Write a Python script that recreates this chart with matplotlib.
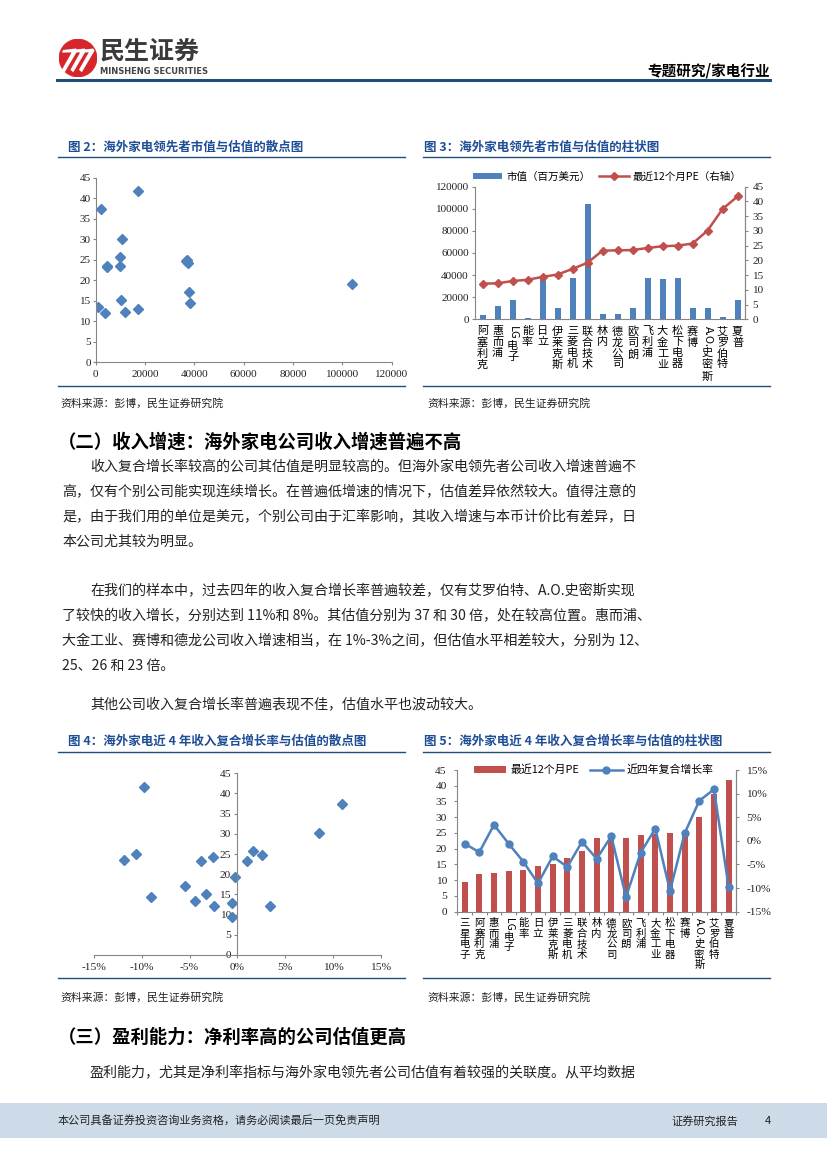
import re
import matplotlib.pyplot as plt
from matplotlib.patches import Circle, Rectangle, Patch, Polygon
from matplotlib.lines import Line2D
from matplotlib.ticker import FuncFormatter

W, H = 827, 1169
CJK = ['Noto Sans CJK SC', 'DejaVu Sans']
NUM = ['Liberation Serif', 'DejaVu Serif']
plt.rcParams['font.family'] = CJK

# companies sorted by trailing PE
names = ['阿塞利克', '惠而浦', 'LG电子', '能率', '日立', '伊莱克斯', '三菱电机', '联合技术',
         '林内', '德龙公司', '欧司朗', '飞利浦', '大金工业', '松下电器', '赛博', 'A.O.史密斯',
         '艾罗伯特', '夏普']
mcap = [3800, 12000, 17200, 800, 38200, 10100, 37700, 104000, 4700, 4700, 9900, 37300,
        36600, 37200, 10000, 10500, 2200, 17300]
pe = [12.1, 12.2, 13.0, 13.4, 14.4, 15.2, 17.1, 19.2, 23.3, 23.4, 23.5, 24.2, 24.8, 25.0,
      25.7, 30.1, 37.4, 41.7]

names5 = ['三星电子'] + names
pe5 = [9.4] + pe
growth = [-0.6, -2.4, 3.4, -0.6, -4.4, -9.0, -3.3, -5.5, -0.2, -3.8, 1.0, -11.9, -2.5, 2.6,
          -10.6, 1.6, 8.5, 10.9, -9.8]

BLUE = '#4F81BD'
RED = '#C0504D'
NAVY = '#1F4E79'
TITLE_BLUE = '#1F4E96'
GRAY = '#868686'

fig = plt.figure(figsize=(W / 100, H / 100), dpi=100)
renderer = fig.canvas.get_renderer()


def rect(x0, y0, x1, y1):
    return [x0 / W, 1 - y1 / H, (x1 - x0) / W, (y1 - y0) / H]


def ftext(x, y, s, **kw):
    kw.setdefault('va', 'center')
    return fig.text(x / W, 1 - y / H, s, **kw)


def hline(x0, x1, y, lw=1.0, color=NAVY):
    fig.add_artist(Line2D([x0 / W, x1 / W], [1 - y / H, 1 - y / H], lw=lw, color=color))


def clean(ax, keep=('left', 'bottom')):
    for side in ['left', 'right', 'top', 'bottom']:
        ax.spines[side].set_visible(side in keep)
        ax.spines[side].set_color(GRAY)
        ax.spines[side].set_linewidth(0.8)
    ax.tick_params(colors=GRAY, labelcolor='#222222', width=0.8)


def num_font(ax, size):
    for lab in ax.get_xticklabels() + ax.get_yticklabels():
        lab.set_fontfamily(NUM)
        lab.set_fontsize(size)


def vlabels(ax, labels, top, fs, ls):
    # vertical category labels: latin part rotated, CJK chars stacked
    for i, lab in enumerate(labels):
        m = re.match(r'[A-Za-z.]+', lab)
        lat = m.group(0) if m else ''
        rest = lab[len(lat):]
        off = top
        if lat:
            t = ax.annotate(lat, xy=(i, 0), xycoords=('data', 'axes fraction'),
                            xytext=(0, -off), textcoords='offset points', rotation=270,
                            ha='center', va='top', fontsize=fs)
            off += t.get_window_extent(renderer).height * 72 / fig.dpi + 0.5
        ax.annotate('\n'.join(rest), xy=(i, 0), xycoords=('data', 'axes fraction'),
                    xytext=(0, -off), textcoords='offset points', ha='center', va='top',
                    fontsize=fs, linespacing=ls)


# ---------------- header ----------------
ax_logo = fig.add_axes(rect(59, 39, 97, 77))
ax_logo.set_xlim(-1, 1)
ax_logo.set_ylim(-1, 1)
ax_logo.set_aspect('equal')
ax_logo.axis('off')
ax_logo.add_patch(Circle((0, 0), 0.98, color='#D7262B'))
for o in [-0.45, 0.0, 0.45]:
    ax_logo.add_patch(Polygon([(o - 0.35, 0.42), (o + 0.35, 0.5), (o + 0.42, 0.38),
                               (o - 0.25, -0.75), (o - 0.4, -0.62), (o + 0.12, 0.3),
                               (o - 0.38, 0.28)], closed=True, color='white', lw=0))
ftext(100, 52, '民生证券', fontsize=18, fontweight='bold', color='#3A3A3A')
ftext(100, 71, 'MINSHENG SECURITIES', fontsize=6, fontweight='bold', color='#444444',
      family='DejaVu Sans')
ftext(770, 70, '专题研究/家电行业', fontsize=10.5, fontweight='bold', ha='right')
hline(57, 770, 80, lw=2.2, color=NAVY)

# ---------------- figure titles / frame lines ----------------
ftext(68, 147, '图 2：海外家电领先者市值与估值的散点图', fontsize=9, fontweight='bold',
      color=TITLE_BLUE)
ftext(424, 147, '图 3：海外家电领先者市值与估值的柱状图', fontsize=9, fontweight='bold',
      color=TITLE_BLUE)
ftext(68, 741.5, '图 4：海外家电近 4 年收入复合增长率与估值的散点图', fontsize=9,
      fontweight='bold', color=TITLE_BLUE)
ftext(424, 741.5, '图 5：海外家电近 4 年收入复合增长率与估值的柱状图', fontsize=9,
      fontweight='bold', color=TITLE_BLUE)
for y in [157, 386]:
    hline(58, 405, y)
    hline(423, 770, y)
for y in [752, 978]:
    hline(58, 405, y)
    hline(423, 770, y)
src = '资料来源：彭博，民生证券研究院'
for x, y in [(60, 403), (427, 403), (60, 997), (427, 997)]:
    ftext(x, y, src, fontsize=7.8, color='#222222')

# ---------------- Fig 2: scatter market cap vs PE ----------------
ax2 = fig.add_axes(rect(95.7, 177.7, 391.7, 362.3))
ax2.plot(mcap, pe, ls='none', marker='D', ms=5.6, color=BLUE)
ax2.set_xlim(0, 120000)
ax2.set_ylim(0, 45)
ax2.set_xticks(range(0, 120001, 20000))
ax2.set_yticks(range(0, 46, 5))
clean(ax2)
ax2.tick_params(axis='y', length=2.5, pad=1)
ax2.tick_params(axis='x', length=2.5, pad=3)
num_font(ax2, 8)

# ---------------- Fig 3: bar market cap + PE line ----------------
ax3 = fig.add_axes(rect(475, 186.7, 745, 319.3))
x3 = range(len(names))
ax3.bar(x3, mcap, width=0.4, color=BLUE, label='市值（百万美元）')
ax3.set_xlim(-0.5, len(names) - 0.5)
ax3.set_ylim(0, 120000)
ax3.set_yticks(range(0, 120001, 20000))
ax3.set_xticks([])
clean(ax3, keep=('left', 'bottom', 'right'))
ax3.tick_params(axis='y', length=2.5, pad=2)
ax3r = ax3.twinx()
ax3r.plot(x3, pe, color=RED, lw=1.8, marker='D', ms=4.5, label='最近12个月PE（右轴）')
ax3r.set_ylim(0, 45)
ax3r.set_yticks(range(0, 46, 5))
clean(ax3r, keep=('right',))
ax3r.tick_params(axis='y', length=2.5, pad=3)
num_font(ax3, 8)
num_font(ax3r, 8)
h1 = Patch(facecolor=BLUE, label='市值（百万美元）')
h2 = Line2D([], [], color=RED, lw=1.8, marker='D', ms=4.5, label='最近12个月PE（右轴）')
ax3r.legend(handles=[h1, h2], loc='center', bbox_to_anchor=(0.49, 1.075), ncol=2,
            frameon=False, fontsize=7.6, handlelength=2.8, handleheight=0.5,
            columnspacing=0.8, handletextpad=0.4, borderaxespad=0)
vlabels(ax3, names, 5, 8, 1.12)

# ---------------- Fig 4: scatter growth vs PE ----------------
ax4 = fig.add_axes(rect(94, 773.3, 380.7, 955))
ax4.plot(growth, pe5, ls='none', marker='D', ms=5.6, color=BLUE)
ax4.set_xlim(-15, 15)
ax4.set_ylim(0, 45)
ax4.set_xticks(range(-15, 16, 5))
ax4.set_yticks(range(0, 46, 5))
ax4.xaxis.set_major_formatter(FuncFormatter(lambda v, p: f'{v:.0f}%'))
clean(ax4)
ax4.spines['left'].set_position(('data', 0))
ax4.tick_params(axis='y', length=2.5, pad=2)
ax4.tick_params(axis='x', length=2.5, pad=3)
num_font(ax4, 8.2)

# ---------------- Fig 5: bar PE + growth line ----------------
ax5 = fig.add_axes(rect(457.3, 770, 736, 911.7))
x5 = range(len(names5))
ax5.bar(x5, pe5, width=0.41, color=RED)
ax5.set_xlim(-0.5, len(names5) - 0.5)
ax5.set_ylim(0, 45)
ax5.set_yticks(range(0, 46, 5))
ax5.set_xticks([i - 0.5 for i in range(len(names5) + 1)])
ax5.set_xticklabels([])
clean(ax5, keep=('left', 'bottom', 'right'))
ax5.tick_params(axis='y', length=2.5, pad=5)
ax5.tick_params(axis='x', length=2.5)
ax5r = ax5.twinx()
ax5r.plot(x5, growth, color=BLUE, lw=1.8, marker='o', ms=5, label='近四年复合增长率')
ax5r.set_ylim(-15, 15)
ax5r.set_yticks(range(-15, 16, 5))
ax5r.yaxis.set_major_formatter(FuncFormatter(lambda v, p: f'{v:.0f}%'))
clean(ax5r, keep=('right',))
ax5r.tick_params(axis='y', length=2.5, pad=5)
num_font(ax5, 8.2)
num_font(ax5r, 8.2)
g1 = Patch(facecolor=RED, label='最近12个月PE')
g2 = Line2D([], [], color=BLUE, lw=1.8, marker='o', ms=5, label='近四年复合增长率')
ax5r.legend(handles=[g1, g2], loc='center', bbox_to_anchor=(0.49, 1.0), ncol=2,
            frameon=False, fontsize=7.8, handlelength=3.0, handleheight=0.7,
            columnspacing=1.0, handletextpad=0.4, borderaxespad=0)
vlabels(ax5, names5, 4.8, 7.5, 1.06)

# ---------------- body text ----------------
ftext(58, 442, '（二）收入增速：海外家电公司收入增速普遍不高', fontsize=13.2,
      fontweight='bold')
body = [
    (90, 467, '收入复合增长率较高的公司其估值是明显较高的。但海外家电领先者公司收入增速普遍不'),
    (62, 492, '高，仅有个别公司能实现连续增长。在普遍低增速的情况下，估值差异依然较大。值得注意的'),
    (62, 517, '是，由于我们用的单位是美元，个别公司由于汇率影响，其收入增速与本币计价比有差异，日'),
    (62, 542, '本公司尤其较为明显。'),
    (90, 591, '在我们的样本中，过去四年的收入复合增长率普遍较差，仅有艾罗伯特、A.O.史密斯实现'),
    (62, 616, '了较快的收入增长，分别达到 11%和 8%。其估值分别为 37 和 30 倍，处在较高位置。惠而浦、'),
    (62, 641, '大金工业、赛博和德龙公司收入增速相当，在 1%-3%之间，但估值水平相差较大，分别为 12、'),
    (62, 666, '25、26 和 23 倍。'),
    (90, 705, '其他公司收入复合增长率普遍表现不佳，估值水平也波动较大。'),
    (90, 1073, '盈利能力，尤其是净利率指标与海外家电领先者公司估值有着较强的关联度。从平均数据'),
]
for x, y, s in body:
    ftext(x, y, s, fontsize=10.1, color='#222222')
ftext(58, 1037, '（三）盈利能力：净利率高的公司估值更高', fontsize=13.2, fontweight='bold')

# ---------------- footer ----------------
fig.add_artist(Rectangle((0, 1 - 1138 / H), 1, 35 / H, transform=fig.transFigure,
                         color='#CDDBE9', lw=0))
ftext(58, 1121, '本公司具备证券投资咨询业务资格，请务必阅读最后一页免责声明', fontsize=8,
      color='#222222')
ftext(671, 1121, '证券研究报告', fontsize=8, color='#222222')
ftext(765, 1121, '4', fontsize=8, color='#222222')

fig.savefig('out.png', dpi=100)
